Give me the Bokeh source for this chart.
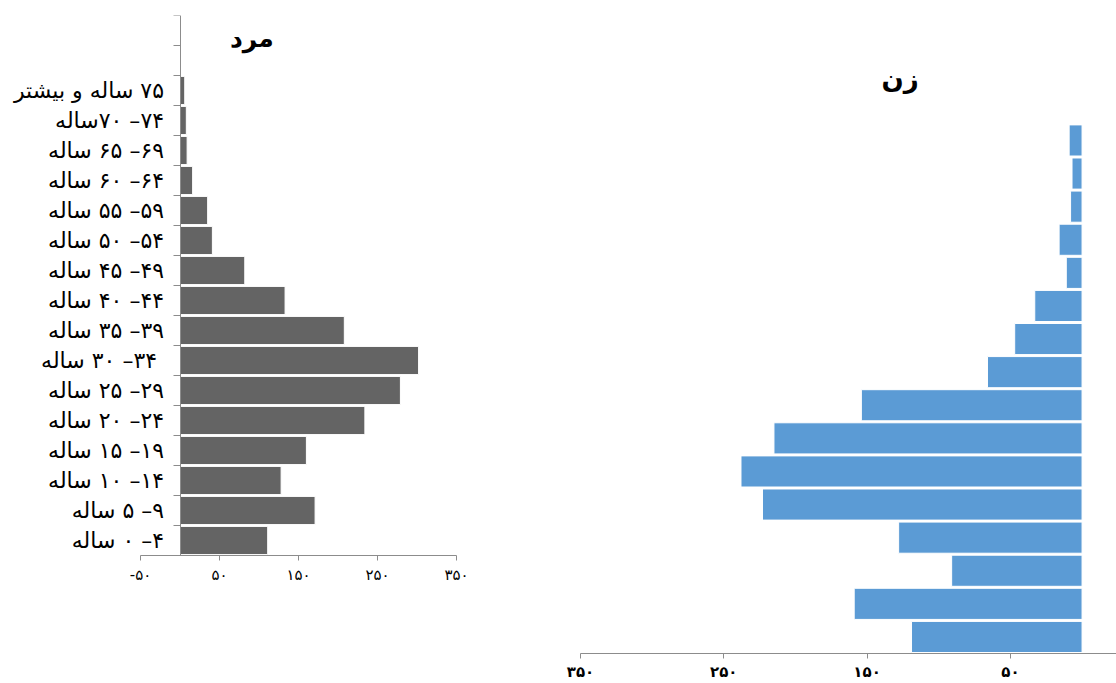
from bokeh.plotting import figure
from bokeh.models import Range1d, FixedTicker, LabelSet, Label, ColumnDataSource
from bokeh.layouts import row
from bokeh.embed import file_html
from bokeh.resources import INLINE
from bokeh.core.properties import value

# ---------------- data (bottom -> top) ----------------
age_groups = [
    "۴– ۰ ساله",
    "۹– ۵ ساله",
    "۱۴– ۱۰ ساله",
    "۱۹– ۱۵ ساله",
    "۲۴– ۲۰ ساله",
    "۲۹– ۲۵ ساله",
    " ۳۴– ۳۰ ساله",
    "۳۹– ۳۵ ساله",
    "۴۴– ۴۰ ساله",
    "۴۹– ۴۵ ساله",
    "۵۴– ۵۰ ساله",
    "۵۹– ۵۵ ساله",
    "۶۴– ۶۰ ساله",
    "۶۹– ۶۵ ساله",
    "۷۴– ۷۰ساله",
    "۷۵ ساله و بیشتر",
]
male = [111, 171, 128, 160, 234, 279, 302, 208, 133, 82, 41, 35, 16, 9, 8, 6]
female = [119, 159, 91, 128, 223, 238, 215, 154, 66, 47, 33, 11, 16, 8, 7, 9]

male_ticks = [-50, 50, 150, 250, 350]
female_ticks = [350, 250, 150, 50]
title_male = "مرد"
title_female = "زن"

FONT = "DejaVu Sans"
MALE_COLOR = "#646464"
FEMALE_COLOR = "#5B9BD5"
AXIS_COLOR = "#8c8c8c"

FA = str.maketrans("0123456789", "۰۱۲۳۴۵۶۷۸۹")


def fa(n):
    return str(n).translate(FA)


RLE, PDF = "\u202b", "\u202c"

n = len(age_groups)
slots = n + 2
centers = [i + 0.5 for i in range(n)]
boundaries = list(range(slots + 1))

# ---------------- layout geometry (pixels) ----------------
H = 683
TOP = 15            # frame top (both panels)
BOTTOM = 30         # border below frames (both panels)
FRAME_H = H - TOP - BOTTOM

W1 = 500
M_PX = 316 / 400    # px per unit, male axis
M_RIGHT = 4         # right border of male panel
m_start = -50 - 140 / M_PX
m_end = m_start + (W1 - M_RIGHT) / M_PX
m_slot = 30         # px per age slot, male
m_ybottom = slots - FRAME_H / m_slot

W2 = 616
F_LEFT = 80
F_PX = 143.3 / 100  # px per unit, female axis
f_end = 350 - (W2 - F_LEFT) / F_PX
f_slot = 33.1
f_ytop = FRAME_H / f_slot

# ---------------- male panel ----------------
src_m = ColumnDataSource(dict(y=centers, right=male,
                              label=[RLE + s + PDF for s in age_groups]))

p1 = figure(width=W1, height=H, x_range=Range1d(m_start, m_end),
            y_range=Range1d(m_ybottom, slots), y_axis_location="right",
            output_backend="svg", toolbar_location=None,
            min_border_left=0, min_border_right=M_RIGHT,
            min_border_top=TOP, min_border_bottom=BOTTOM)
p1.hbar(y="y", left=0, right="right", height=0.94, source=src_m,
        fill_color=MALE_COLOR, line_color="white", line_width=1)
p1.grid.visible = False
p1.outline_line_color = None

# category axis line at x = 0 with tick marks between the age groups
p1.yaxis.fixed_location = 0
p1.yaxis.bounds = (0, slots)
p1.yaxis.ticker = FixedTicker(ticks=[], minor_ticks=boundaries)
p1.yaxis.major_tick_out = 0
p1.yaxis.major_tick_in = 0
p1.yaxis.minor_tick_out = 0
p1.yaxis.minor_tick_in = 7
p1.yaxis.axis_line_color = AXIS_COLOR
p1.yaxis.minor_tick_line_color = AXIS_COLOR

p1.xaxis.fixed_location = 0
p1.xaxis.bounds = (-50, 350)
p1.xaxis.ticker = FixedTicker(ticks=male_ticks)
p1.xaxis.major_label_overrides = {t: ("-" + fa(-t) if t < 0 else fa(t)) for t in male_ticks}
p1.xaxis.major_label_text_font = FONT
p1.xaxis.major_label_text_font_size = "15px"
p1.xaxis.major_label_text_color = "black"
p1.xaxis.major_tick_out = 5
p1.xaxis.major_tick_in = 0
p1.xaxis.minor_tick_out = 0
p1.xaxis.minor_tick_in = 0
p1.xaxis.axis_line_color = AXIS_COLOR
p1.xaxis.major_tick_line_color = AXIS_COLOR

labels = LabelSet(x=0, y="y", text="label", source=src_m, x_offset=-16,
                  text_align="right", text_baseline="middle",
                  text_font=value(FONT), text_font_size="22px", text_color="black")
p1.add_layout(labels)

p1.add_layout(Label(x=91, y=17.23, text=title_male, text_align="center",
                    text_baseline="middle", text_font=FONT,
                    text_font_size="25px", text_font_style="bold", text_color="black"))

# ---------------- female panel ----------------
src_f = ColumnDataSource(dict(y=centers, right=female))

p2 = figure(width=W2, height=H, x_range=Range1d(350, f_end), y_range=Range1d(0, f_ytop),
            output_backend="svg", toolbar_location=None,
            min_border_left=F_LEFT, min_border_right=0,
            min_border_top=TOP, min_border_bottom=BOTTOM)
p2.hbar(y="y", left=0, right="right", height=0.94, source=src_f,
        fill_color=FEMALE_COLOR, line_color="white", line_width=1)
p2.grid.visible = False
p2.outline_line_color = None
p2.yaxis.visible = False

p2.xaxis.ticker = FixedTicker(ticks=female_ticks)
p2.xaxis.major_label_overrides = {t: fa(t) for t in female_ticks}
p2.xaxis.major_label_text_font = FONT
p2.xaxis.major_label_text_font_size = "15px"
p2.xaxis.major_label_text_font_style = "bold"
p2.xaxis.major_label_text_color = "black"
p2.xaxis.major_label_standoff = 4
p2.xaxis.major_tick_out = 5
p2.xaxis.major_tick_in = 0
p2.xaxis.minor_tick_out = 0
p2.xaxis.minor_tick_in = 0
p2.xaxis.axis_line_color = AXIS_COLOR
p2.xaxis.major_tick_line_color = AXIS_COLOR

p2.add_layout(Label(x=127, y=f_ytop - (78 - TOP) / f_slot, text=title_female,
                    text_align="center", text_baseline="middle", text_font=FONT,
                    text_font_size="26px", text_font_style="bold", text_color="black"))

layout = row(p1, p2)
open("out.html", "w").write(file_html(layout, INLINE))
